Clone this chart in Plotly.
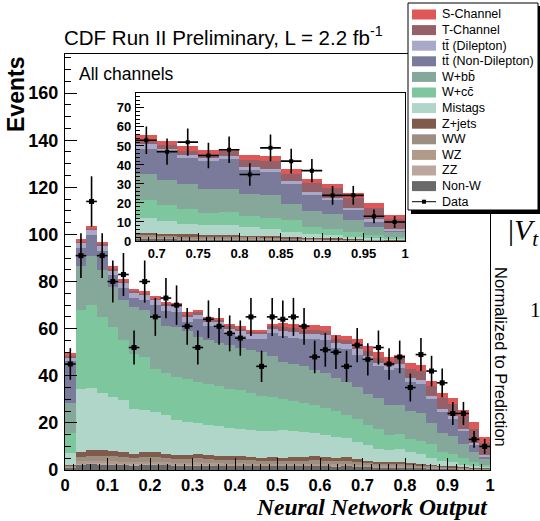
import numpy as np
import plotly.graph_objects as go

# ---------------- data (40 bins of width 0.025 on [0,1]) ----------------
bin_width = 0.025
bin_centers = [round(bin_width * (i + 0.5), 4) for i in range(40)]

non_w = [1.0, 2.4, 2.6, 2.5, 2.4, 2.3, 2.1, 2.4, 2.3, 2.2, 2.0, 1.9, 2.1, 2.0, 1.9, 1.8, 1.9, 1.8, 1.7, 1.7,
         1.7, 1.7, 1.7, 1.8, 1.7, 1.6, 1.7, 1.4, 1.3, 1.1, 1.1, 1.1, 1.0, 0.9, 0.7, 0.6, 0.5, 0.4, 0.3, 0.3]
zz = [0.1, 0.3, 0.3, 0.3, 0.3, 0.3, 0.3, 0.3, 0.3, 0.3, 0.3, 0.3, 0.3, 0.2, 0.2, 0.2, 0.2, 0.2, 0.2, 0.2,
      0.2, 0.2, 0.2, 0.2, 0.2, 0.2, 0.2, 0.2, 0.2, 0.1, 0.1, 0.1, 0.1, 0.1, 0.1, 0.1, 0.1, 0.0, 0.0, 0.0]
wz = [0.3, 1.0, 1.0, 1.1, 1.0, 0.9, 0.9, 0.9, 0.9, 0.8, 0.8, 0.8, 0.8, 0.8, 0.7, 0.7, 0.7, 0.7, 0.6, 0.7,
      0.6, 0.7, 0.7, 0.7, 0.7, 0.6, 0.7, 0.5, 0.5, 0.4, 0.4, 0.4, 0.4, 0.3, 0.3, 0.2, 0.2, 0.2, 0.1, 0.1]
ww = [0.4, 2.0, 2.2, 2.2, 2.1, 2.0, 1.8, 2.0, 2.0, 1.8, 1.7, 1.6, 1.7, 1.6, 1.6, 1.5, 1.6, 1.5, 1.4, 1.4,
      1.4, 1.4, 1.4, 1.5, 1.4, 1.4, 1.4, 1.2, 1.0, 1.0, 0.9, 0.9, 0.8, 0.7, 0.6, 0.5, 0.4, 0.3, 0.3, 0.2]
z_jets = [0.4, 2.1, 2.2, 2.2, 2.2, 2.0, 1.9, 2.0, 2.0, 1.9, 1.7, 1.7, 1.7, 1.7, 1.6, 1.6, 1.6, 1.5, 1.4, 1.5,
          1.4, 1.4, 1.5, 1.6, 1.5, 1.4, 1.5, 1.2, 1.0, 1.0, 0.9, 0.9, 0.7, 0.7, 0.5, 0.4, 0.3, 0.3, 0.3, 0.3]
mistags = [5.0, 26.5, 26.5, 24.2, 23.0, 22.2, 19.1, 17.8, 17.2, 16.3, 14.7, 14.2, 13.4, 12.8, 12.5, 12.2, 11.6,
           11.3, 11.2, 11.0, 11.7, 11.3, 10.7, 9.8, 9.5, 9.0, 8.0, 7.5, 6.5, 5.4, 5.0, 5.4, 4.5, 4.0, 2.7,
           1.9, 1.7, 1.1, 0.8, 0.5]
w_cc = [8.5, 33.5, 35.2, 32.5, 29.7, 25.3, 23.3, 22.6, 18.3, 17.7, 18.3, 18.0, 17.5, 17.6, 17.0, 16.5, 16.3,
        15.5, 15.0, 14.5, 13.0, 12.8, 12.3, 11.9, 11.5, 10.8, 10.0, 9.6, 8.5, 8.2, 6.6, 6.6, 5.7, 5.8, 6.1,
        3.8, 3.5, 2.6, 1.4, 0.9]
w_bb = [12.7, 18.7, 21.0, 19.7, 17.0, 17.0, 19.8, 19.8, 22.0, 20.0, 21.0, 20.5, 19.0, 18.3, 18.5, 18.5, 18.1,
        18.5, 18.5, 17.5, 16.0, 15.5, 15.5, 15.0, 14.5, 14.0, 14.0, 13.7, 13.1, 13.2, 12.7, 12.3, 11.8, 11.7,
        8.8, 8.3, 7.9, 6.1, 4.3, 2.6]
tt_nondilep = [18.0, 7.7, 8.7, 8.3, 4.9, 5.1, 4.0, 4.2, 4.9, 6.7, 6.5, 4.0, 7.5, 6.0, 6.7, 5.0, 5.0, 4.6, 5.6,
               9.5, 10.7, 11.2, 11.6, 13.1, 14.2, 12.7, 13.7, 13.5, 14.9, 13.6, 14.8, 15.8, 12.5, 12.3, 10.2,
               8.7, 6.9, 5.5, 3.0, 0.6]
tt_dilep = [1.5, 2.3, 2.3, 2.3, 2.3, 2.3, 2.3, 2.3, 2.3, 2.3, 2.0, 2.0, 2.0, 2.0, 2.0, 2.0, 2.0, 2.0, 2.0, 2.0,
            2.2, 2.2, 2.2, 2.2, 2.2, 2.2, 2.2, 2.6, 1.5, 1.5, 1.5, 1.5, 1.5, 1.5, 1.5, 1.5, 1.5, 1.0, 1.0, 1.0]
t_channel = [0.8, 0.7, 0.7, 0.7, 0.7, 0.7, 0.7, 0.7, 0.7, 0.7, 1.0, 1.0, 1.0, 1.0, 1.0, 1.0, 1.0, 1.0, 1.0, 1.0,
             1.8, 1.8, 1.8, 1.8, 1.8, 1.8, 1.8, 2.1, 2.0, 2.0, 2.0, 2.5, 4.0, 4.0, 4.0, 4.5, 5.0, 5.5, 6.0, 5.0]
s_channel = [0.8, 0.8, 0.8, 0.8, 0.8, 0.8, 0.8, 0.8, 0.8, 0.8, 1.0, 1.0, 1.0, 1.0, 1.0, 1.0, 1.0, 1.0, 1.0, 1.0,
             1.8, 1.8, 1.8, 1.8, 1.8, 1.8, 1.8, 2.3, 2.1, 2.5, 1.9, 1.3, 2.3, 2.7, 2.4, 2.1, 2.4, 2.6, 2.7, 2.5]

data_counts = [45, 91, 114, 91, 80, 83, 52, 80, 65, 73, 70, 61, 52, 64, 61, 58, 56, 65, 44, 65,
               64, 65, 61, 48, 51, 50, 44, 53, 47, 52, 45, 48, 35, 49, 42, 37, 24, 24, 13, 10]

# tick labels
main_x_ticks = [0, 0.1, 0.2, 0.3, 0.4, 0.5, 0.6, 0.7, 0.8, 0.9, 1.0]
main_x_labels = ["0", "0.1", "0.2", "0.3", "0.4", "0.5", "0.6", "0.7", "0.8", "0.9", "1"]
main_y_ticks = [0, 20, 40, 60, 80, 100, 120, 140, 160]
main_y_labels = ["0", "20", "40", "60", "80", "100", "120", "140", "160"]
inset_x_ticks = [0.7, 0.75, 0.8, 0.85, 0.9, 0.95, 1.0]
inset_x_labels = ["0.7", "0.75", "0.8", "0.85", "0.9", "0.95", "1"]
inset_y_ticks = [0, 10, 20, 30, 40, 50, 60, 70]
inset_y_labels = ["0", "10", "20", "30", "40", "50", "60", "70"]

# stacking order bottom -> top
components = [
    ("Non-W", non_w, "rgb(105,105,105)"),
    ("ZZ", zz, "rgb(188,167,159)"),
    ("WZ", wz, "rgb(177,154,138)"),
    ("WW", ww, "rgb(156,142,128)"),
    ("Z+jets", z_jets, "rgb(128,90,75)"),
    ("Mistags", mistags, "rgb(176,214,201)"),
    ("W+cc̄", w_cc, "rgb(126,198,158)"),
    ("W+bb̄", w_bb, "rgb(134,168,154)"),
    ("tt̄ (Non-Dilepton)", tt_nondilep, "rgb(122,122,155)"),
    ("tt̄ (Dilepton)", tt_dilep, "rgb(170,168,200)"),
    ("T-Channel", t_channel, "rgb(150,96,105)"),
    ("S-Channel", s_channel, "rgb(222,88,88)"),
]

# ---------------- geometry helpers (pixel -> paper) ----------------
W, H = 540, 521
L, R, T, B = 65, 490, 54, 470


def px(x):
    return (x - L) / (R - L)


def py(y):
    return (B - y) / (B - T)


def bold(labels):
    return ["<b>%s</b>" % s for s in labels]


FONT = "Liberation Sans"
fig = go.Figure()

err = np.sqrt(np.array(data_counts, dtype=float))
for xa, ya in (("x", "y"), ("x2", "y2")):
    for name, vals, col in components:
        fig.add_trace(go.Bar(x=bin_centers, y=vals, width=bin_width, name=name,
                             marker=dict(color=col, line=dict(width=0)),
                             xaxis=xa, yaxis=ya, showlegend=False))
    fig.add_trace(go.Scatter(
        x=bin_centers, y=data_counts, mode="markers", name="Data", xaxis=xa, yaxis=ya,
        marker=dict(symbol="square", size=5 if xa == "x" else 4, color="black"),
        error_y=dict(type="data", array=err, thickness=1.6, width=0, color="black"),
        error_x=dict(type="constant", value=bin_width / 2, thickness=1.6, width=0, color="black"),
        showlegend=False))

axis_common = dict(showline=True, linecolor="black", linewidth=1.3, mirror=True,
                   ticks="inside", tickcolor="black", showgrid=False, zeroline=False)

fig.update_layout(
    width=W, height=H,
    margin=dict(l=L, r=W - R, t=T, b=H - B),
    paper_bgcolor="white", plot_bgcolor="white",
    barmode="stack", bargap=0,
    xaxis=dict(domain=[0, 1], range=[0, 1], anchor="y",
               tickmode="array", tickvals=main_x_ticks, ticktext=bold(main_x_labels),
               ticklen=12, tickwidth=1.2,
               minor=dict(ticks="inside", dtick=0.02, tick0=0, ticklen=6, tickcolor="black", tickwidth=1),
               tickfont=dict(family=FONT, size=16.5, color="black"),
               ticklabelstandoff=0, **axis_common),
    yaxis=dict(domain=[0, 1], range=[0, 176.6], anchor="x",
               tickmode="array", tickvals=main_y_ticks, ticktext=bold(main_y_labels),
               ticklen=12, tickwidth=1.2,
               minor=dict(ticks="inside", dtick=5, tick0=0, ticklen=6, tickcolor="black", tickwidth=1),
               tickfont=dict(family=FONT, size=18, color="black"),
               ticklabelstandoff=2, **axis_common),
    xaxis2=dict(domain=[px(136), px(405)], range=[0.675, 1.0], anchor="y2",
                tickmode="array", tickvals=inset_x_ticks, ticktext=bold(inset_x_labels),
                ticklen=8, tickwidth=1,
                minor=dict(ticks="inside", dtick=0.01, tick0=0, ticklen=4, tickcolor="black", tickwidth=1),
                tickfont=dict(family=FONT, size=13, color="black"),
                ticklabelstandoff=0, **axis_common),
    yaxis2=dict(domain=[py(241), py(92.7)], range=[0, 78], anchor="x2",
                tickmode="array", tickvals=inset_y_ticks, ticktext=bold(inset_y_labels),
                ticklen=8, tickwidth=1,
                minor=dict(ticks="inside", dtick=2, tick0=0, ticklen=4, tickcolor="black", tickwidth=1),
                tickfont=dict(family=FONT, size=13, color="black"),
                ticklabelstandoff=1, **axis_common),
)

shapes = []
annotations = []

# ---------------- manual legend box ----------------
lx0, lx1, ly0, ly1 = 408, 538, 3, 210
shapes.append(dict(type="rect", xref="paper", yref="paper", layer="above",
                   x0=px(lx0 + 3), x1=px(lx1 + 6), y0=py(ly1 + 4), y1=py(ly0 + 3),
                   fillcolor="black", line=dict(width=0)))
shapes.append(dict(type="rect", xref="paper", yref="paper", layer="above",
                   x0=px(lx0), x1=px(lx1), y0=py(ly1), y1=py(ly0),
                   fillcolor="white", line=dict(color="black", width=1)))
legend_items = list(reversed(components))
row0, row_step = 14.5, 15.6
for i, (name, vals, col) in enumerate(legend_items):
    yc = row0 + i * row_step
    shapes.append(dict(type="rect", xref="paper", yref="paper", layer="above",
                       x0=px(412), x1=px(436), y0=py(yc + 5), y1=py(yc - 5),
                       fillcolor=col, line=dict(width=0)))
    annotations.append(dict(text=name, x=px(440), y=py(yc), xref="paper", yref="paper",
                            xanchor="left", yanchor="middle", showarrow=False,
                            font=dict(family=FONT, size=12.5, color="black")))
yc = row0 + len(legend_items) * row_step
shapes.append(dict(type="line", xref="paper", yref="paper", layer="above",
                   x0=px(412), x1=px(436), y0=py(yc), y1=py(yc), line=dict(color="black", width=1)))
shapes.append(dict(type="rect", xref="paper", yref="paper", layer="above",
                   x0=px(422), x1=px(426), y0=py(yc + 2), y1=py(yc - 2),
                   fillcolor="black", line=dict(width=0)))
annotations.append(dict(text="Data", x=px(440), y=py(yc), xref="paper", yref="paper",
                        xanchor="left", yanchor="middle", showarrow=False,
                        font=dict(family=FONT, size=12.5, color="black")))

# ---------------- texts ----------------
annotations += [
    dict(text="CDF Run II Preliminary, L = 2.2 fb<sup>-1</sup>", x=px(62), y=py(36),
         xref="paper", yref="paper", xanchor="left", yanchor="middle", showarrow=False,
         font=dict(family=FONT, size=20.5, color="black")),
    dict(text="All channels", x=px(77), y=py(74), xref="paper", yref="paper",
         xanchor="left", yanchor="middle", showarrow=False,
         font=dict(family=FONT, size=17.5, color="black")),
    dict(text="<b>Events</b>", x=px(16), y=py(95), xref="paper", yref="paper", textangle=-90,
         xanchor="center", yanchor="middle", showarrow=False,
         font=dict(family=FONT, size=23, color="black")),
    dict(text="<b><i>Neural Network Output</i></b>", x=px(489), y=py(521), xref="paper", yref="paper",
         xanchor="right", yanchor="bottom", showarrow=False, borderpad=0,
         font=dict(family="Liberation Serif", size=23.5, color="black")),
    dict(text="Normalized to Prediction", x=px(501), y=py(357), xref="paper", yref="paper",
         textangle=90, xanchor="center", yanchor="middle", showarrow=False,
         font=dict(family=FONT, size=16.5, color="black")),
    dict(text="|<i>V</i><sub><i>t</i></sub>", x=px(506), y=py(232), xref="paper", yref="paper",
         xanchor="left", yanchor="middle", showarrow=False,
         font=dict(family="Liberation Serif", size=30, color="black")),
    dict(text="1", x=px(535), y=py(310), xref="paper", yref="paper",
         xanchor="center", yanchor="middle", showarrow=False,
         font=dict(family="Liberation Serif", size=21, color="black")),
]

fig.update_layout(shapes=shapes, annotations=annotations)
fig.write_html("out.html")
